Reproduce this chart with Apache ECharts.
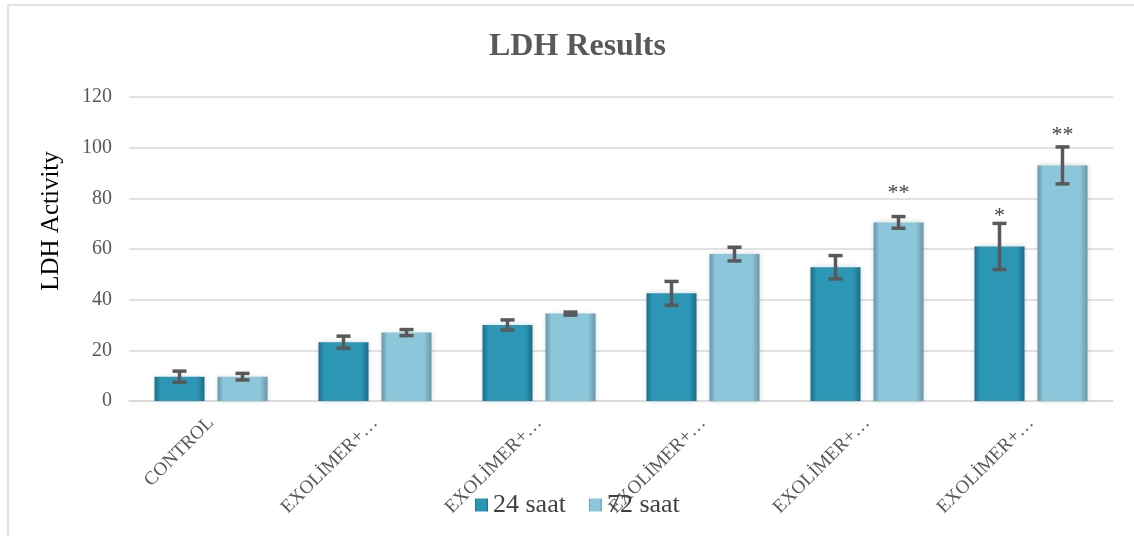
<!DOCTYPE html>
<html>
<head>
<meta charset="utf-8">
<script src="https://cdn.jsdelivr.net/npm/echarts@6/dist/echarts.min.js"></script>
<style>
html,body{margin:0;padding:0;background:#fff;}
#chart{width:1134px;height:536px;}
</style>
</head>
<body>
<div id="chart"></div>
<script>
var categories = ['CONTROL', 'EXOLİMER+…', 'EXOLİMER+…', 'EXOLİMER+…', 'EXOLİMER+…', 'EXOLİMER+…'];
var seriesNames = ['24 saat', '72 saat'];
var values24 = [9.6, 23.2, 30, 42.5, 52.8, 61];
var values72 = [9.6, 27, 34.5, 58, 70.5, 93];
var err24 = [2.2, 2.4, 2, 4.7, 4.6, 9.1];
var err72 = [1.3, 1.2, 0.6, 2.7, 2.3, 7.3];
var sig24 = ['', '', '', '', '', '*'];
var sig72 = ['', '', '', '', '**', '**'];
var sigPos24 = [0, 0, 0, 0, 0, 73];
var sigPos72 = [0, 0, 0, 0, 82, 105];
var yTicks = [0, 20, 40, 60, 80, 100, 120];
var yAxisName = 'LDH Activity';
var chartTitle = 'LDH Results';

var SERIF = '"Liberation Serif", "DejaVu Serif", serif';

function gradient(edge, mid) {
  return new echarts.graphic.LinearGradient(0, 0, 1, 0, [
    {offset: 0, color: edge},
    {offset: 0.12, color: mid},
    {offset: 0.85, color: mid},
    {offset: 1, color: edge}
  ]);
}
var color24 = gradient('#1d6e86', '#2b97b5');
var color72 = gradient('#6797a8', '#8cc6da');

var BAR_W = 50;
var HALF_OFF = 31.5;

function errorRender(values, errs, sigs, sigPos, dir) {
  return function (params, api) {
    var i = params.dataIndex;
    var v = values[i], e = errs[i];
    var top = api.coord([i, v + e]);
    var bot = api.coord([i, v - e]);
    var x = top[0] + dir * HALF_OFF;
    var cap = 7;
    var st = {stroke: '#595959', lineWidth: 3.5};
    var children = [
      {type: 'line', shape: {x1: x, y1: top[1], x2: x, y2: bot[1]}, style: st},
      {type: 'line', shape: {x1: x - cap, y1: top[1], x2: x + cap, y2: top[1]}, style: st},
      {type: 'line', shape: {x1: x - cap, y1: bot[1], x2: x + cap, y2: bot[1]}, style: st}
    ];
    if (sigs[i]) {
      var sp = api.coord([i, sigPos[i]]);
      children.push({type: 'text', style: {x: x, y: sp[1], text: sigs[i], align: 'center', verticalAlign: 'middle',
        font: '22px ' + SERIF, fill: '#404040'}});
    }
    return {type: 'group', children: children};
  };
}

var chart = echarts.init(document.getElementById('chart'));
chart.setOption({
  animation: false,
  backgroundColor: '#fff',
  title: {
    text: chartTitle, left: 484, top: 26,
    textStyle: {fontFamily: SERIF, fontSize: 32, fontWeight: 'bold', color: '#595959'}
  },
  legend: {
    data: seriesNames, left: 470, top: 487, itemWidth: 13, itemHeight: 13, itemGap: 23,
    icon: 'rect',
    textStyle: {fontFamily: SERIF, fontSize: 26, color: '#404040'}
  },
  graphic: [{
    type: 'rect', shape: {x: 8, y: 5, width: 1140, height: 540},
    style: {fill: 'none', stroke: '#d9d9d9', lineWidth: 1.5}, silent: true, z: -1
  }, {
    type: 'text', x: 51, y: 221, rotation: Math.PI / 2,
    style: {text: yAxisName, align: 'center', verticalAlign: 'middle', font: '25px ' + SERIF, fill: '#000'}
  }],
  grid: {left: 129, right: 21, top: 97, bottom: 135},
  xAxis: {
    type: 'category', data: categories,
    axisLine: {lineStyle: {color: '#d9d9d9', width: 1.5}},
    axisTick: {show: false},
    axisLabel: {rotate: 45, margin: 19, fontFamily: SERIF, fontSize: 19, color: '#595959', interval: 0}
  },
  yAxis: {
    type: 'value', min: yTicks[0], max: yTicks[yTicks.length - 1], interval: yTicks[1] - yTicks[0],
    axisLine: {show: false}, axisTick: {show: false},
    splitLine: {lineStyle: {color: '#d9d9d9', width: 1.5}},
    axisLabel: {margin: 17, fontFamily: SERIF, fontSize: 20, color: '#595959'}
  },
  series: [
    {name: seriesNames[0], type: 'bar', data: values24, barWidth: BAR_W, barGap: '26%',
      itemStyle: {color: color24, shadowBlur: 5, shadowColor: 'rgba(0,0,0,0.18)'}},
    {name: seriesNames[1], type: 'bar', data: values72, barWidth: BAR_W,
      itemStyle: {color: color72, shadowBlur: 5, shadowColor: 'rgba(0,0,0,0.18)'}},
    {type: 'custom', data: values24, renderItem: errorRender(values24, err24, sig24, sigPos24, -1), z: 10, silent: true},
    {type: 'custom', data: values72, renderItem: errorRender(values72, err72, sig72, sigPos72, 1), z: 10, silent: true}
  ]
});
</script>
</body>
</html>
